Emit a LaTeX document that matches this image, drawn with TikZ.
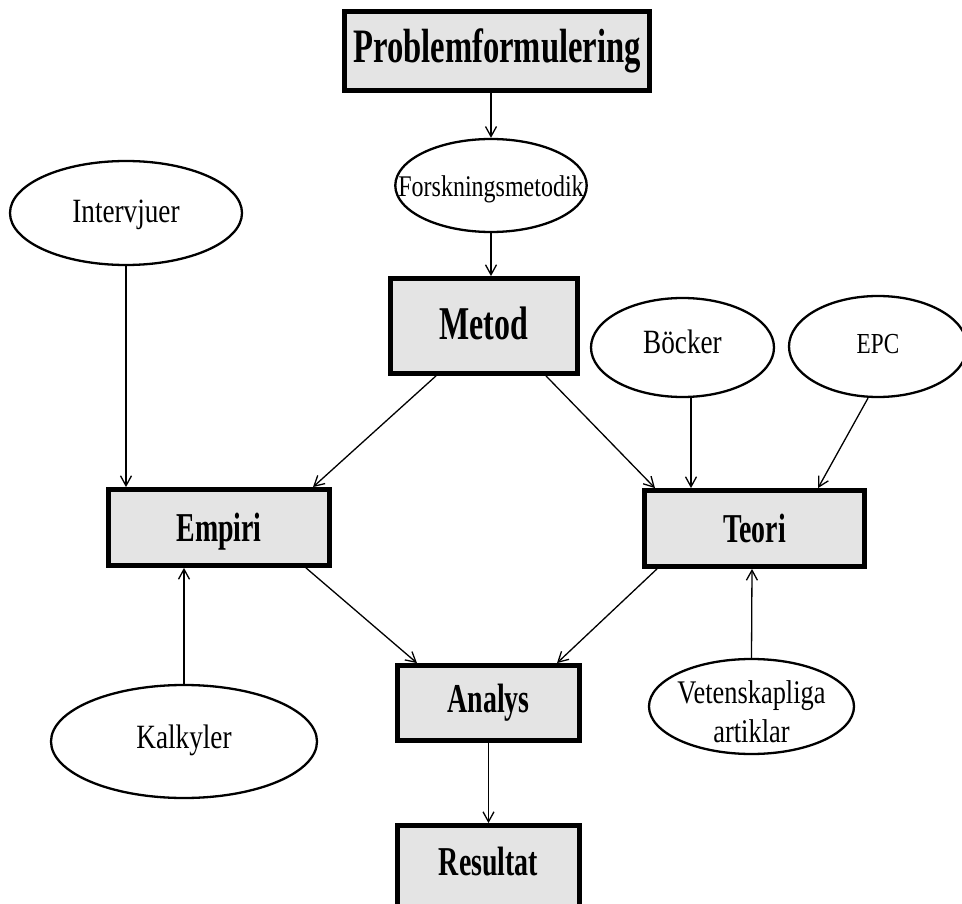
\documentclass[tikz,border=0pt]{standalone}
\usepackage{fontspec}
\usetikzlibrary{shapes.geometric,arrows.meta}
\newfontfamily\regfont{Liberation Serif}[FakeStretch=0.8]
\newfontfamily\boldfont{Liberation Serif}[FakeStretch=0.68]
\definecolor{boxgray}{RGB}{228,228,228}
\begin{document}
\begin{tikzpicture}[x=1pt,y=-1pt,
  stage/.style={draw=black, line width=4.8pt, fill=boxgray, rectangle, inner sep=0pt,
    font=\boldfont\bfseries\fontsize{41}{44}\selectfont},
  source/.style={draw=black, line width=2.3pt, ellipse, inner sep=0pt, fill=white,
    font=\regfont\fontsize{34}{38}\selectfont},
  flow/.style={line width=1.3pt, -{Straight Barb[length=10pt,width=11pt]}}]
\useasboundingbox (0,0) rectangle (962,904);
\clip (0,0) rectangle (962,904);

% main stages
\node[stage, minimum width=305, minimum height=79, text height=34, text depth=10,
  font=\boldfont\bfseries\fontsize{48}{50}\selectfont] (prob) at (497,51) {Problemformulering};
\node[stage, minimum width=187, minimum height=95, text height=32, text depth=4,
  font=\boldfont\bfseries\fontsize{47}{50}\selectfont] (metod) at (484,326) {Metod};
\node[stage, minimum width=221, minimum height=76, text height=30, text depth=3] (empiri) at (219,527.5) {Empiri};
\node[stage, minimum width=220, minimum height=76, text height=30, text depth=3] (teori) at (754.5,528.5) {Teori};
\node[stage, minimum width=182, minimum height=75, text height=28, text depth=10] (analys) at (488.5,703) {Analys};
\node[stage, minimum width=182, minimum height=82, text height=28, text depth=11] (resultat) at (488.5,866.5) {Resultat};

% sources (the long label runs right up to its ellipse)
\node[source, minimum width=190, minimum height=93, text height=23, text depth=0,
  inner xsep=-25pt, font=\regfont\fontsize{30}{33}\selectfont] (forsk) at (491,185.5) {Forskningsmetodik};
\node[source, minimum width=232, minimum height=104, text height=20, text depth=0] (interv) at (126,213) {Intervjuer};
\node[source, minimum width=183, minimum height=99, text height=16, text depth=5] (bocker) at (682.5,347.5) {Böcker};
\node[source, minimum width=178, minimum height=101, text height=16, text depth=3,
  font=\regfont\fontsize{29}{32}\selectfont] (epc) at (878,346.5) {EPC};
\node[source, minimum width=266, minimum height=113, text height=16, text depth=3] (kalk) at (184,741.5) {Kalkyler};
\node[source, minimum width=205, minimum height=95] (vet) at (751.5,706.5) {};
\node[anchor=north, inner sep=0pt, align=center, font=\regfont\fontsize{33}{39}\selectfont]
  (vetlabel) at (751.5,680) {Vetenskapliga\\artiklar};

% connectors
\draw[flow] ([xshift=-6]prob.south) -- (forsk.north);
\draw[flow] (forsk.south) -- ([xshift=7]metod.north);
\draw[flow] (interv.south) -- ([xshift=-93]empiri.north);
\draw[flow] ([xshift=-48]metod.south) -- ([xshift=94]empiri.north);
\draw[flow] ([xshift=62]metod.south) -- ([xshift=-99.5]teori.north);
\draw[flow] ([xshift=8.5]bocker.south) -- ([xshift=-63.5]teori.north);
\draw[flow] ([xshift=-10]epc.south) -- ([xshift=63.5]teori.north);
\draw[flow] (kalk.north) -- ([xshift=-35]empiri.south);
\draw[flow] (vet.north) -- ([xshift=-2.5]teori.south);
\draw[flow] ([xshift=87]empiri.south) -- ([xshift=-71.5]analys.north);
\draw[flow] ([xshift=-97.5]teori.south) -- ([xshift=68.5]analys.north);
\draw[flow] (analys.south) -- (resultat.north);
\end{tikzpicture}
\end{document}
